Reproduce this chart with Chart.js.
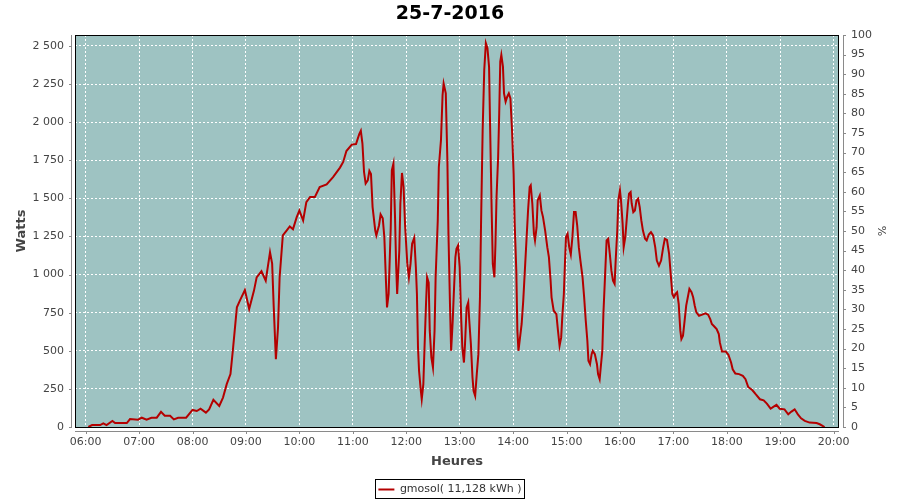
<!DOCTYPE html>
<html><head><meta charset="utf-8">
<script src="https://cdn.jsdelivr.net/npm/chart.js@4"></script>
<style>html,body{margin:0;padding:0;background:#fff}canvas{display:block}</style>
</head><body>
<canvas id="c" width="900" height="500"></canvas>
<script>
const chartTitle = '25-7-2016';
const seriesLabel = 'gmosol( 11,128 kWh )';
const xTitle = 'Heures';
const yTitle = 'Watts';
const y2Title = '%';

// time of day in decimal hours
const times = [
  6.05,6.12,6.27,6.33,6.39,6.5,6.55,6.77,6.83,6.98,
  7.05,7.14,7.23,7.33,7.41,7.48,7.58,7.65,7.73,7.88,
  8.0,8.08,8.15,8.25,8.31,8.39,8.5,8.57,8.64,8.71,
  8.76,8.83,8.89,8.98,9.06,9.15,9.2,9.29,9.37,9.45,
  9.49,9.52,9.56,9.6,9.63,9.69,9.76,9.82,9.88,9.95,
  10.0,10.07,10.13,10.2,10.29,10.38,10.51,10.63,10.76,10.82,
  10.88,10.98,11.06,11.12,11.15,11.18,11.21,11.24,11.28,11.31,
  11.34,11.37,11.42,11.44,11.49,11.52,11.56,11.59,11.62,11.64,
  11.67,11.71,11.73,11.76,11.79,11.81,11.83,11.87,11.89,11.92,
  11.95,11.98,12.02,12.05,12.08,12.11,12.15,12.18,12.2,12.22,
  12.24,12.27,12.29,12.32,12.34,12.37,12.39,12.42,12.44,12.47,
  12.5,12.53,12.55,12.59,12.61,12.65,12.68,12.7,12.74,12.77,
  12.79,12.82,12.84,12.87,12.89,12.92,12.94,12.97,13.0,13.03,
  13.05,13.08,13.1,13.13,13.16,13.18,13.21,13.24,13.26,13.29,
  13.32,13.35,13.38,13.4,13.43,13.46,13.49,13.52,13.55,13.57,
  13.6,13.62,13.65,13.67,13.69,13.72,13.74,13.76,13.78,13.81,
  13.83,13.86,13.89,13.92,13.95,13.98,14.01,14.03,14.06,14.08,
  14.1,14.13,14.16,14.19,14.22,14.25,14.28,14.31,14.33,14.36,
  14.39,14.41,14.44,14.46,14.5,14.53,14.56,14.6,14.64,14.67,
  14.7,14.72,14.76,14.81,14.84,14.87,14.9,14.92,14.95,14.97,
  14.99,15.02,15.05,15.08,15.11,15.14,15.17,15.2,15.23,15.26,
  15.3,15.33,15.36,15.39,15.41,15.44,15.47,15.49,15.53,15.57,
  15.59,15.62,15.64,15.67,15.69,15.72,15.75,15.78,15.81,15.84,
  15.87,15.9,15.92,15.95,15.97,16.0,16.02,16.05,16.07,16.1,
  16.12,16.15,16.17,16.2,16.22,16.25,16.28,16.31,16.34,16.37,
  16.4,16.43,16.47,16.5,16.54,16.58,16.62,16.66,16.69,16.73,
  16.77,16.81,16.84,16.88,16.92,16.95,16.98,17.01,17.04,17.07,
  17.1,17.13,17.15,17.18,17.21,17.24,17.27,17.3,17.34,17.37,
  17.4,17.43,17.48,17.54,17.6,17.65,17.69,17.72,17.77,17.81,
  17.85,17.87,17.91,17.98,18.03,18.08,18.11,18.16,18.23,18.3,
  18.35,18.4,18.48,18.54,18.62,18.69,18.75,18.82,18.87,18.93,
  18.99,19.08,19.15,19.21,19.27,19.33,19.39,19.46,19.55,19.68,
  19.74,19.83
];

// power in watts
const watts = [
  0,13,13,24,13,40,26,26,52,48,
  61,48,61,61,99,74,74,50,61,61,
  112,105,120,94,116,178,138,193,281,347,
  522,785,833,899,774,895,982,1022,960,1147,
  1072,785,445,653,982,1257,1289,1316,1298,1377,
  1421,1355,1476,1509,1509,1575,1592,1640,1702,1739,
  1811,1853,1857,1921,1943,1860,1673,1597,1618,1680,
  1660,1443,1289,1257,1322,1395,1370,1246,960,785,
  873,1311,1684,1728,1377,1070,873,1158,1465,1667,
  1575,1311,1070,982,1070,1202,1241,1048,873,522,
  368,248,182,281,500,807,982,947,632,456,
  390,632,982,1355,1706,1882,2178,2254,2189,1750,
  1268,785,500,697,873,1114,1169,1191,1048,697,
  522,423,544,785,818,697,544,325,237,204,
  347,478,851,1333,1947,2342,2518,2485,2364,1969,
  1399,1070,982,1202,1509,1772,2057,2397,2441,2364,
  2189,2134,2167,2189,2156,1947,1662,1333,1026,632,
  500,588,676,829,1026,1224,1421,1575,1586,1465,
  1268,1224,1311,1487,1520,1421,1377,1289,1180,1114,
  971,851,763,741,632,533,588,719,873,1070,
  1246,1268,1180,1132,1246,1410,1410,1322,1180,1092,
  982,851,697,566,434,412,478,500,478,412,
  347,314,390,500,741,982,1224,1235,1136,1026,
  960,939,1092,1289,1487,1553,1487,1333,1180,1246,
  1333,1465,1531,1542,1465,1410,1421,1487,1498,1443,
  1355,1289,1235,1224,1263,1278,1257,1180,1092,1059,
  1092,1180,1235,1228,1136,1004,873,851,873,884,
  807,632,577,599,697,796,851,906,884,851,
  796,752,730,737,746,737,708,676,658,643,
  610,555,496,496,474,423,379,351,347,336,
  314,263,241,215,182,175,153,120,132,145,
  120,116,83,101,116,83,57,40,29,26,
  18,0
];

const hourTicks = [6,7,8,9,10,11,12,13,14,15,16,17,18,19,20];
const wattTicks = [0,250,500,750,1000,1250,1500,1750,2000,2250,2500];
const pctTicks = [0,5,10,15,20,25,30,35,40,45,50,55,60,65,70,75,80,85,90,95,100];

const xRange = [5.8, 20.1];
const wattRange = [0, 2572];
const pctRange = [0, 100];

const fmtThousands = v => String(v).replace(/\B(?=(\d{3})+(?!\d))/g, ' ');
const fmtHour = v => String(v).padStart(2, '0') + ':00';

const framePlugin = {
  id: 'framePlugin',
  beforeDraw(chart) {
    const {ctx, chartArea: a} = chart;
    ctx.save();
    ctx.fillStyle = '#9ec3c2';
    ctx.fillRect(a.left, a.top, a.right - a.left, a.bottom - a.top);
    ctx.restore();
  },
  afterDraw(chart) {
    const {ctx, chartArea: a, scales} = chart;
    ctx.save();
    ctx.lineWidth = 1;
    // plot frame
    ctx.strokeStyle = '#000';
    ctx.strokeRect(Math.round(a.left) + 0.5, Math.round(a.top) + 0.5,
                   Math.round(a.right - a.left) - 1, Math.round(a.bottom - a.top));
    // offset axis lines with tick marks
    ctx.strokeStyle = '#8a8a8a';
    ctx.beginPath();
    const lx = Math.round(a.left) - 4 + 0.5;
    ctx.moveTo(lx, a.top); ctx.lineTo(lx, a.bottom + 1);
    scales.y.ticks.forEach(t => {
      const py = Math.round(scales.y.getPixelForValue(t.value)) + 0.5;
      ctx.moveTo(lx - 2.5, py); ctx.lineTo(lx, py);
    });
    const rx = Math.round(a.right) + 4 + 0.5;
    ctx.moveTo(rx, a.top); ctx.lineTo(rx, a.bottom + 1);
    scales.y2.ticks.forEach(t => {
      const py = Math.round(scales.y2.getPixelForValue(t.value)) + 0.5;
      ctx.moveTo(rx, py); ctx.lineTo(rx + 2.5, py);
    });
    const by = Math.round(a.bottom) + 4 + 0.5;
    ctx.moveTo(a.left, by); ctx.lineTo(a.right, by);
    scales.x.ticks.forEach(t => {
      const px = Math.round(scales.x.getPixelForValue(t.value)) + 0.5;
      ctx.moveTo(px, by); ctx.lineTo(px, by + 2.5);
    });
    ctx.stroke();
    // legend frame
    const lg = chart.legend;
    if (lg && lg.legendHitBoxes && lg.legendHitBoxes.length) {
      const hb = lg.legendHitBoxes[0];
      ctx.strokeStyle = '#000';
      ctx.strokeRect(Math.round(hb.left - 3) + 0.5, Math.round(hb.top - 5) + 0.5,
                     Math.round(hb.width + 6), Math.round(hb.height + 8));
    }
    ctx.restore();
  }
};

Chart.defaults.font.family = "'DejaVu Sans', sans-serif";
Chart.defaults.font.size = 11;
Chart.defaults.color = '#444';

new Chart(document.getElementById('c'), {
  type: 'line',
  data: {
    datasets: [{
      label: seriesLabel,
      data: times.map((t, i) => ({x: t, y: watts[i]})),
      borderColor: '#b40000',
      backgroundColor: '#b40000',
      borderWidth: 2,
      pointRadius: 0,
      tension: 0,
      fill: false,
      xAxisID: 'x',
      yAxisID: 'y'
    }]
  },
  options: {
    responsive: false,
    animation: false,
    devicePixelRatio: 1,
    layout: {padding: {left: 0, right: 0, top: 0, bottom: -5}},
    plugins: {
      title: {display: true, text: chartTitle, color: '#000',
              font: {size: 19, weight: 'bold'}, padding: {top: 3, bottom: 9.2}},
      legend: {position: 'bottom',
               labels: {usePointStyle: true, pointStyle: 'line', pointStyleWidth: 16,
                        color: '#333', font: {size: 11}, padding: 10}},
      tooltip: {enabled: false}
    },
    scales: {
      x: {
        type: 'linear', position: 'bottom', min: xRange[0], max: xRange[1], bounds: 'data',
        afterBuildTicks: s => { s.ticks = hourTicks.map(v => ({value: v})); },
        afterFit: s => { s.height = 47; },
        ticks: {callback: v => fmtHour(v), maxRotation: 0, autoSkip: false, padding: 9, color: '#444'},
        grid: {color: '#ffffff', drawTicks: false, lineWidth: 1},
        border: {display: false, dash: [2, 2]},
        title: {display: true, text: xTitle, color: '#444', font: {size: 13, weight: 'bold'},
                padding: {top: 0, bottom: 5}}
      },
      y: {
        type: 'linear', position: 'left', min: wattRange[0], max: wattRange[1], bounds: 'data',
        afterBuildTicks: s => { s.ticks = wattTicks.map(v => ({value: v})); },
        afterFit: s => { s.width = 75; },
        ticks: {callback: v => fmtThousands(v), autoSkip: false, padding: 11, color: '#444'},
        grid: {color: '#ffffff', drawTicks: false, lineWidth: 1},
        border: {display: false, dash: [2, 2]},
        title: {display: true, text: yTitle, color: '#444', font: {size: 13, weight: 'bold'},
                padding: {top: 14, bottom: 0}}
      },
      y2: {
        type: 'linear', position: 'right', min: pctRange[0], max: pctRange[1], bounds: 'data',
        afterBuildTicks: s => { s.ticks = pctTicks.map(v => ({value: v})); },
        afterFit: s => { s.width = 61; },
        ticks: {callback: v => String(v), autoSkip: false, padding: 12, color: '#444'},
        grid: {drawOnChartArea: false, drawTicks: false},
        border: {display: false},
        title: {display: true, text: y2Title, color: '#444', font: {size: 11},
                padding: {top: 13, bottom: 0}}
      }
    }
  },
  plugins: [framePlugin]
});
</script>
</body></html>
